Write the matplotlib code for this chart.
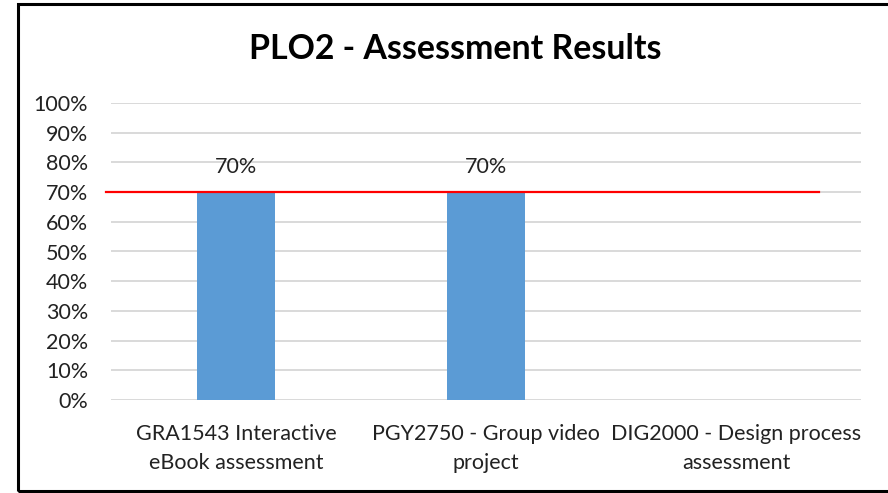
import matplotlib
matplotlib.use("Agg")
import matplotlib.pyplot as plt
from matplotlib.patches import Rectangle
from matplotlib.ticker import PercentFormatter, MultipleLocator

plt.rcParams['font.family'] = ['Lato', 'DejaVu Sans']

categories = ["GRA1543 Interactive\neBook assessment",
              "PGY2750 - Group video\nproject",
              "DIG2000 - Design process\nassessment"]
values = [0.70, 0.70, None]
target = 0.70
target_span = (-0.52, 2.33)
title = "PLO2 - Assessment Results"

W, H = 888, 493
fig = plt.figure(figsize=(W / 100, H / 100), dpi=100)
ax = fig.add_axes([111 / W, (H - 400) / H, (861 - 111) / W, (400 - 103) / H])

# frame around the chart
fig.patches.append(Rectangle((18 / W, 2 / H), 1.0, (491 - 4) / H, transform=fig.transFigure,
                             fill=False, edgecolor='black', linewidth=2.2, clip_on=False))

xs = list(range(len(categories)))
bar_x = [x for x, v in zip(xs, values) if v is not None]
bar_v = [v for v in values if v is not None]
ax.bar(bar_x, bar_v, width=0.31, color='#5B9BD5', zorder=3)
for x, v in zip(bar_x, bar_v):
    ax.annotate(f"{v:.0%}", (x, v), xytext=(0, 11), textcoords='offset points',
                ha='center', va='bottom', fontsize=15.5, color='#222222')

ax.plot(target_span, [target, target], color='#FF0000', linewidth=1.6, zorder=4, clip_on=False)

ax.set_xlim(-0.5, 2.5)
ax.set_ylim(0, 1.0)
ax.yaxis.set_major_locator(MultipleLocator(0.1))
ax.yaxis.set_major_formatter(PercentFormatter(1.0, decimals=0))
ax.set_xticks(xs)
ax.set_xticklabels(categories, fontsize=15.5, color='#222222', linespacing=1.6)
ax.tick_params(axis='y', labelsize=15.5, labelcolor='#222222', length=0, pad=16.5)
ax.tick_params(axis='x', length=0, pad=17)
ax.grid(axis='y', color='#D9D9D9', linewidth=1.4, zorder=0)
ax.set_axisbelow(True)
for s in ax.spines.values():
    s.set_visible(False)

fig.text((250 + 660) / 2 / W, (H - 49) / H, title, ha='center', va='center',
         fontsize=24.4, fontweight='bold', color='black')

fig.savefig("out.png", dpi=100)
